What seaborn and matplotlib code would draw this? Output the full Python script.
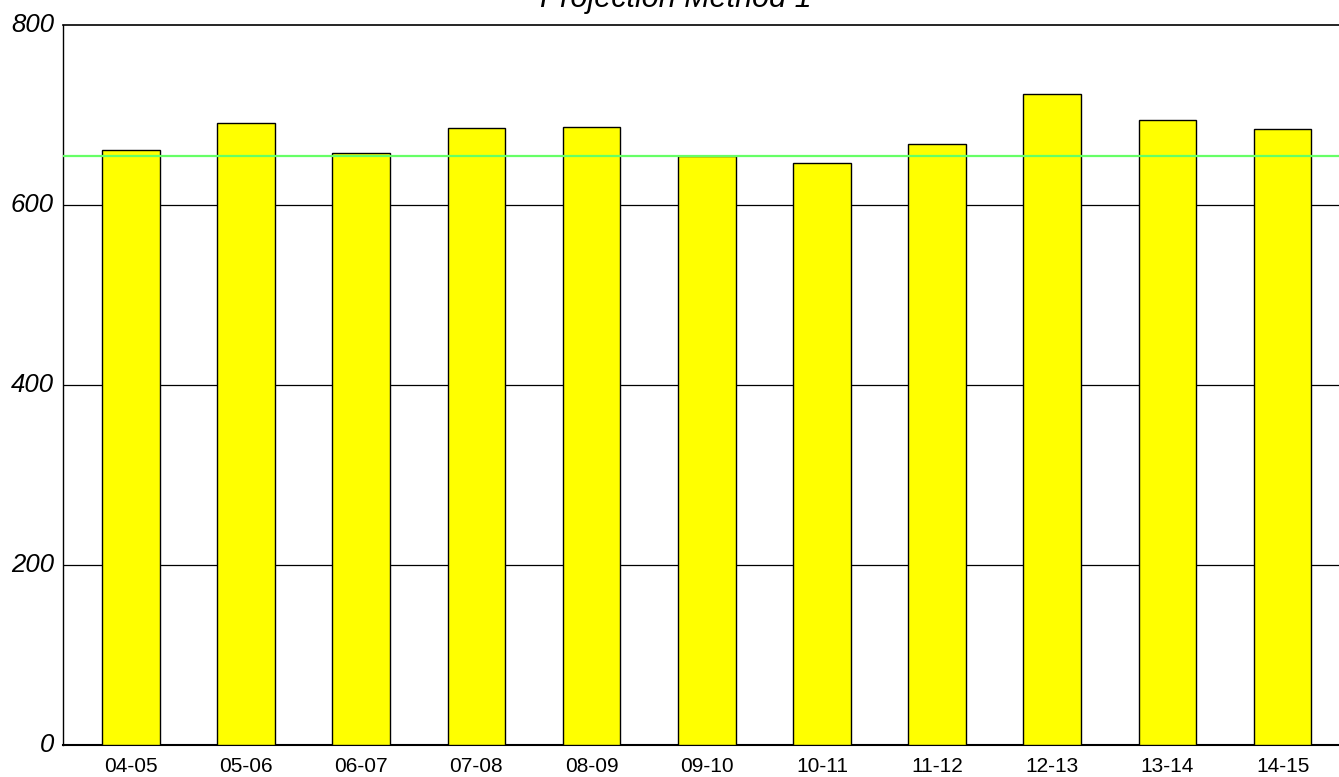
import matplotlib
matplotlib.use("Agg")
import matplotlib.pyplot as plt
import matplotlib.transforms as mtransforms
import seaborn as sns
import pandas as pd

categories = ["04-05", "05-06", "06-07", "07-08", "08-09", "09-10",
              "10-11", "11-12", "12-13", "13-14", "14-15"]
values = [661, 691, 658, 686, 687, 654, 647, 668, 723, 694, 684]
reference_line = 654
y_ticks = [0, 200, 400, 600, 800]
title = "Projection Method 1"

sns.set_theme(style="white")
plt.rcParams["font.family"] = ["Liberation Sans", "DejaVu Sans"]
plt.rcParams["text.color"] = "black"
plt.rcParams["xtick.color"] = "black"
plt.rcParams["ytick.color"] = "black"

df = pd.DataFrame({"season": categories, "value": values})

fig = plt.figure(figsize=(13.39, 7.77), dpi=100)
ax = fig.add_axes([63 / 1339, 1 - 745 / 777, 1 - 63 / 1339, (745 - 25) / 777])

sns.barplot(data=df, x="season", y="value", color="#FFFF00", saturation=1,
            edgecolor="black", linewidth=1.0, width=0.5, ax=ax, zorder=3)

for t in y_ticks[1:-1]:
    ax.axhline(t, color="black", lw=0.9, zorder=1)
ax.axhline(reference_line, color="#66FF66", lw=1.6, zorder=4)

ax.set_ylim(0, 800)
ax.set_xlim(-0.59, 10.49)
ax.set_yticks(y_ticks)
ax.set_yticklabels([str(t) for t in y_ticks], fontsize=18.5, style="italic",
                   color="black")
ax.tick_params(axis="y", length=0, pad=6.5, labelcolor="black")
ax.tick_params(axis="x", length=0, pad=9, labelsize=15, labelcolor="black")
offset = mtransforms.ScaledTranslation(0, 3 / 100, fig.dpi_scale_trans)
for lab in ax.get_yticklabels():
    lab.set_transform(lab.get_transform() + offset)
ax.set_xlabel("")
ax.set_ylabel("")
ax.grid(False)

for side in ["left", "top", "bottom"]:
    ax.spines[side].set_visible(True)
    ax.spines[side].set_color("black")
ax.spines["left"].set_linewidth(1.0)
ax.spines["top"].set_linewidth(1.2)
ax.spines["bottom"].set_linewidth(1.5)
ax.spines["right"].set_visible(False)

fig.text(676 / 1339, 1 - 7 / 777, title, ha="center", va="baseline",
         fontsize=22, style="italic", color="black")

fig.savefig("out.png", dpi=100)
